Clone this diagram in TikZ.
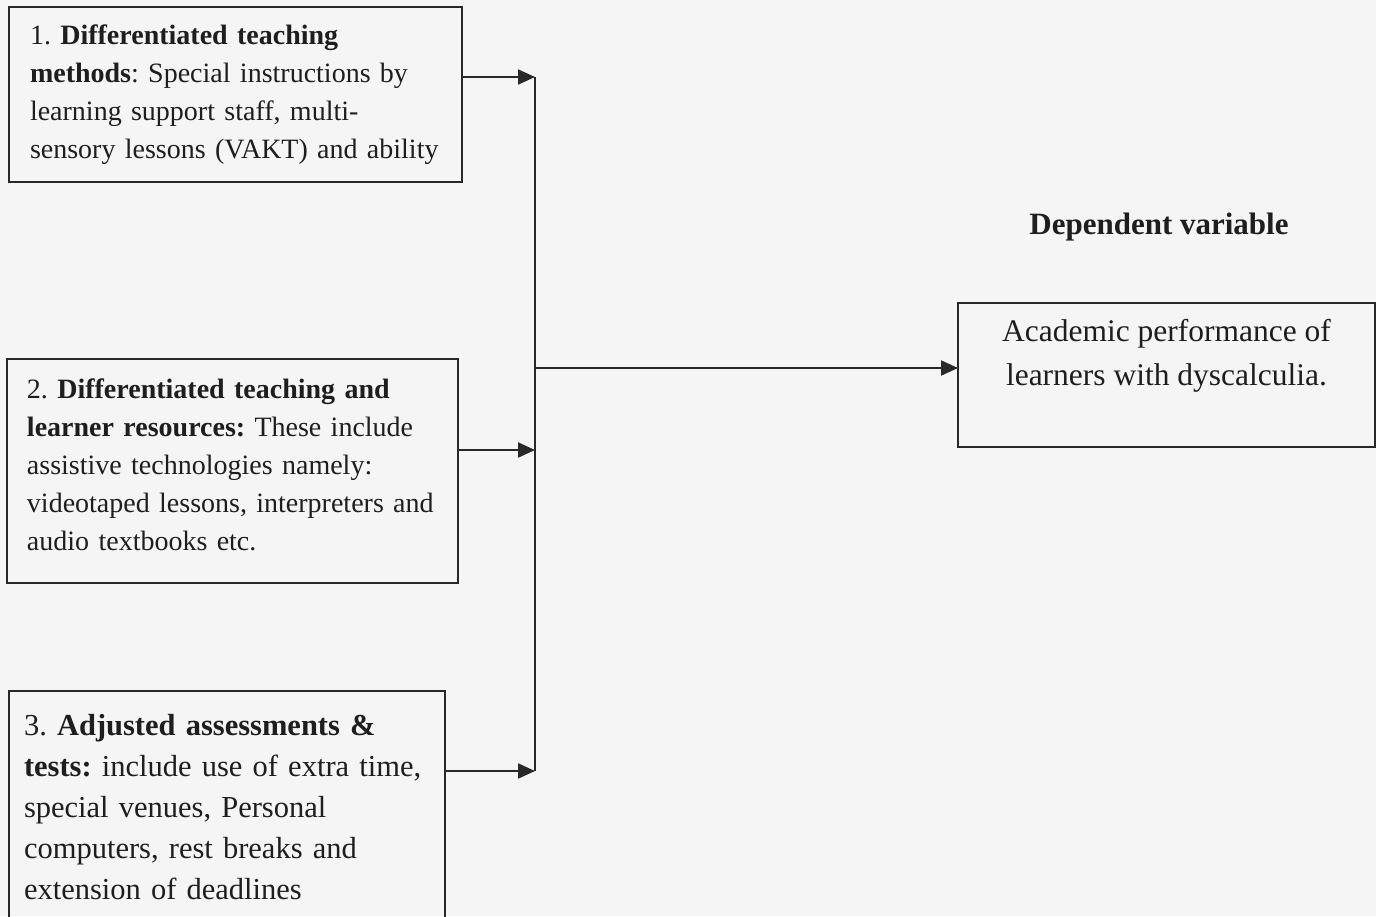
\documentclass[tikz,border=0pt]{standalone}
\usepackage{fontspec}
\setmainfont{Liberation Serif}
\frenchspacing
\usetikzlibrary{arrows.meta,calc}
\definecolor{paper}{RGB}{245,245,245}
\definecolor{ink}{RGB}{30,30,30}
\definecolor{rule}{RGB}{40,40,40}
\tikzset{
  lbox/.style={draw=rule, line width=2pt, outer sep=0pt, anchor=north west,
    align=left, text=ink, inner ysep=0pt},
  conn/.style={draw=rule, line width=2pt},
  arr/.style={conn, -{Triangle[length=17pt,width=15pt]}},
}
\begin{document}
\begin{tikzpicture}[x=1pt,y=-1pt]
\fill[paper] (0,0) rectangle (1376,916);
\useasboundingbox (0,0) rectangle (1376,916);

\node[lbox, inner xsep=21pt, text width=411pt, minimum height=175pt,
  font=\fontsize{28}{38}\selectfont] (b1) at (9,7)
  {\mbox{1. \textbf{Differentiated teaching}}\\
   \mbox{\textbf{methods}: Special instructions by}\\
   \mbox{learning support staff, multi-}\\
   \mbox{sensory lessons (VAKT) and ability}};

\node[lbox, inner xsep=20pt, text width=411pt, minimum height=224pt,
  text depth=164pt, font=\fontsize{28}{38}\selectfont] (b2) at (7,359)
  {\mbox{2. \textbf{Differentiated teaching and}}\\
   \mbox{\textbf{learner resources:} These include}\\
   \mbox{assistive technologies namely:}\\
   \mbox{videotaped lessons, interpreters and}\\
   \mbox{audio textbooks etc.}};

\node[lbox, inner xsep=15pt, text width=406pt, minimum height=232pt,
  font=\fontsize{30.5}{41}\selectfont] (b3) at (9,691)
  {\mbox{3. \textbf{Adjusted assessments \&}}\\
   \mbox{\textbf{tests:} include use of extra time,}\\
   \mbox{special venues, Personal}\\
   \mbox{computers, rest breaks and}\\
   \mbox{extension of deadlines}};

\node[draw=rule, line width=2pt, outer sep=0pt, anchor=north west,
  minimum width=417pt, minimum height=144pt] (dv) at (958,303) {};
\node[align=center, text=ink, inner sep=0pt,
  font=\fontsize{31.5}{44}\selectfont] (dvtext) at ($(dv.north)+(0,53)$)
  {Academic performance of\\learners with dyscalculia.};
\node[text=ink, inner sep=0pt, font=\fontsize{31}{36}\selectfont\bfseries]
  (dvhead) at (1159,227) {Dependent variable};

\coordinate (j1) at (535,77);
\coordinate (j2) at (535,450);
\coordinate (jm) at (535,368);
\coordinate (j3) at (535,771);

\draw[conn] (j1) -- (j3);
\draw[arr] (b1.east |- j1) -- (j1);
\draw[arr] (b2.east |- j2) -- (j2);
\draw[arr] (b3.east |- j3) -- (j3);
\draw[arr] (jm) -- (dv.west |- jm);
\end{tikzpicture}
\end{document}
